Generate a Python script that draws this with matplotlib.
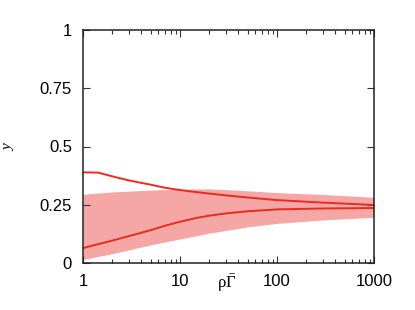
import matplotlib
matplotlib.use("Agg")
import matplotlib.pyplot as plt
import numpy as np
from matplotlib.ticker import LogLocator, NullFormatter, FixedLocator

# data
x_upper = [1, 1.43, 2, 3, 5, 7, 10, 15, 20, 30, 50, 100, 300, 1000]
y_upper = [0.389, 0.388, 0.372, 0.354, 0.336, 0.323, 0.313, 0.304, 0.298, 0.290, 0.281, 0.270, 0.259, 0.249]

x_lower = [1, 1.5, 2, 3, 5, 7, 10, 15, 20, 30, 50, 100, 300, 1000]
y_lower = [0.064, 0.083, 0.096, 0.116, 0.141, 0.160, 0.177, 0.194, 0.203, 0.213, 0.222, 0.230, 0.234, 0.236]

x_band = [1, 2, 5, 10, 20, 50, 100, 300, 1000]
band_hi = [0.295, 0.305, 0.313, 0.317, 0.318, 0.310, 0.302, 0.294, 0.282]
band_lo = [0.015, 0.040, 0.078, 0.103, 0.128, 0.155, 0.170, 0.185, 0.196]

y_ticks = [0, 0.25, 0.5, 0.75, 1]
y_ticklabels = ["0", "0.25", "0.5", "0.75", "1"]
x_ticks = [1, 10, 100, 1000]
x_ticklabels = ["1", "10", "100", "1000"]

plt.rcParams['font.family'] = ['Liberation Sans', 'DejaVu Sans']
plt.rcParams['mathtext.fontset'] = 'custom'
plt.rcParams['mathtext.rm'] = 'Liberation Serif'
plt.rcParams['mathtext.it'] = 'Liberation Serif:italic'

fig = plt.figure(figsize=(4.15, 3.10), dpi=100)
ax = fig.add_axes([83/415, 47/310, 291/415, 233/310])

fill_c = '#f4a7a4'
line_c = '#ec2a1f'
ax.fill_between(x_band, band_lo, band_hi, color=fill_c, lw=0)
ax.plot(x_upper, y_upper, color=line_c, lw=1.4)
ax.plot(x_lower, y_lower, color=line_c, lw=1.4)

ax.set_xscale('log')
ax.set_xlim(1, 1000)
ax.set_ylim(0, 1)
ax.xaxis.set_major_locator(FixedLocator(x_ticks))
ax.set_xticklabels(x_ticklabels)
ax.xaxis.set_minor_locator(LogLocator(base=10, subs=np.arange(2, 10)))
ax.xaxis.set_minor_formatter(NullFormatter())
ax.set_yticks(y_ticks)
ax.set_yticklabels(y_ticklabels)

ax.tick_params(which='both', direction='in', top=True, right=True, labelsize=12, width=0.8, colors='#333333', labelcolor='black')
ax.tick_params(which='major', length=5, pad=8)
ax.tick_params(which='minor', length=3)
for s in ax.spines.values():
    s.set_linewidth(1.1)
    s.set_color('#222222')

fig.text(227/415, 1 - 283/310, r'$\mathrm{\rho\bar{\Gamma}}$', ha='center', va='center', fontsize=12)
fig.text(9/415, 1 - 148/310, 'y', ha='center', va='center', rotation=90,
         family=['Liberation Serif', 'DejaVu Serif'], style='italic', fontsize=11)

fig.savefig('out.png', dpi=100)
